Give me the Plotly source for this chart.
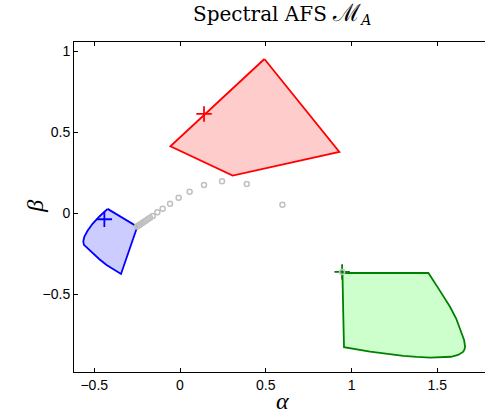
import plotly.graph_objects as go

# Feasible regions of the spectral AFS (boundary vertices, alpha / beta)
red_alpha = [0.492, 0.929, 0.307, -0.056, 0.492]
red_beta = [0.952, 0.378, 0.232, 0.413, 0.952]

blue_alpha = [-0.422, -0.249, -0.344, -0.428, -0.470, -0.505, -0.540, -0.560, -0.564,
              -0.558, -0.540, -0.510, -0.470, -0.422]
blue_beta = [0.027, -0.083, -0.375, -0.319, -0.284, -0.247, -0.215, -0.195, -0.175,
             -0.145, -0.110, -0.065, -0.020, 0.027]

green_alpha = [0.947, 1.448, 1.510, 1.574, 1.610, 1.633, 1.647, 1.656, 1.662, 1.658,
               1.650, 1.621, 1.580, 1.520, 1.458, 1.380, 1.302, 1.108, 0.956, 0.952, 0.947]
green_beta = [-0.369, -0.369, -0.470, -0.577, -0.650, -0.720, -0.752, -0.782, -0.823, -0.842,
              -0.856, -0.875, -0.886, -0.890, -0.891, -0.887, -0.881, -0.854, -0.827, -0.638, -0.369]

# Iterates of the grey point sequence
iter_alpha = [0.597, 0.389, 0.245, 0.140, 0.056, -0.008, -0.058, -0.101, -0.132, -0.159,
              -0.175, -0.188, -0.200, -0.210, -0.220, -0.229, -0.237, -0.244, -0.250, 0.945]
iter_beta = [0.053, 0.181, 0.197, 0.175, 0.133, 0.096, 0.059, 0.028, 0.006, -0.017,
             -0.028, -0.037, -0.046, -0.053, -0.060, -0.066, -0.072, -0.077, -0.082, -0.362]

# Reference points marked with a plus
plus_alpha = [0.140, -0.441, 0.945]
plus_beta = [0.613, -0.037, -0.362]
plus_colors = ["red", "blue", "rgb(0,128,0)"]

x_ticks = [-0.5, 0, 0.5, 1, 1.5]
y_ticks = [-0.5, 0, 0.5, 1]

fig = go.Figure()

regions = [
    (red_alpha, red_beta, "rgb(255,204,204)", "red"),
    (blue_alpha, blue_beta, "rgb(204,204,255)", "blue"),
    (green_alpha, green_beta, "rgb(204,255,204)", "rgb(0,128,0)"),
]
for xa, yb, fill, line in regions:
    fig.add_trace(go.Scatter(x=xa, y=yb, mode="lines", fill="toself", fillcolor=fill,
                             line=dict(color=line, width=1.8), hoverinfo="skip"))

for xa, yb, c in zip(plus_alpha, plus_beta, plus_colors):
    fig.add_trace(go.Scatter(x=[xa], y=[yb], mode="markers",
                             marker=dict(symbol="cross-thin-open", size=11, color=c,
                                         line=dict(width=1.8, color=c))))

fig.add_trace(go.Scatter(x=iter_alpha, y=iter_beta, mode="markers",
                         marker=dict(symbol="circle-open", size=5, color="rgb(192,192,192)",
                                     line=dict(width=1.5, color="rgb(192,192,192)"))))

axis_common = dict(showgrid=False, zeroline=False, ticks="inside", ticklen=4,
                   tickcolor="black", linecolor="black", linewidth=1, showline=True,
                   tickfont=dict(family="Liberation Sans, Arial, sans-serif", size=14, color="black"))

fig.update_xaxes(range=[-0.618, 1.778], tickvals=x_ticks, ticktext=["\u22120.5", "0", "0.5", "1", "1.5"],
                 mirror="ticks", **axis_common)
fig.update_yaxes(range=[-0.980, 1.057], tickvals=y_ticks, ticktext=["\u22120.5", "0", "0.5", "1"],
                 mirror=False, **axis_common)

# Title, centred above the plot area
fig.add_annotation(text="Spectral AFS <span style='font-size:24px'>\u2133</span><sub><i>A</i></sub>",
                   xref="paper", yref="paper",
                   x=(282 - 74) / 411, y=1 + (42 - 14) / 330, xanchor="center", yanchor="middle",
                   showarrow=False, font=dict(family="DejaVu Serif, serif", size=20, color="black"))
fig.add_annotation(text="<i>\u03b1</i>", xref="x", yref="paper", x=0.6, y=0, yshift=-44,
                   showarrow=False, font=dict(family="Liberation Serif, serif", size=24, color="black"))
fig.add_annotation(text="<i>\u03b2</i>", xref="paper", yref="y", x=0, y=0.04, xshift=-54,
                   textangle=-90, showarrow=False,
                   font=dict(family="Liberation Serif, serif", size=24, color="black"))

fig.update_layout(width=485, height=416, margin=dict(l=74, r=0, t=42, b=44),
                  paper_bgcolor="white", plot_bgcolor="white", showlegend=False)

fig.write_html("out.html")
